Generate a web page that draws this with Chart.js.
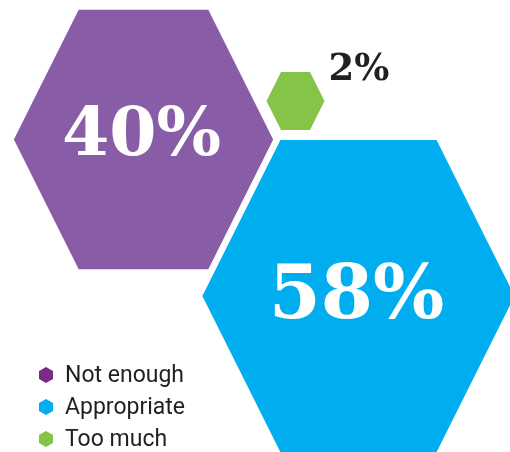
<!DOCTYPE html>
<html>
<head>
    <meta charset="UTF-8">
    <title>Hexagon shares</title>
    <style>
        body {
            margin: 0;
            padding: 0;
            background: #fff;
        }

        #chartBox {
            width: 510px;
            height: 452px;
        }
    </style>
</head>
<body>
    <div id="chartBox">
        <canvas id="hexChart"></canvas>
    </div>

    <script src="https://cdn.jsdelivr.net/npm/chart.js"></script>
    <script>
        const categories = ['Not enough', 'Appropriate', 'Too much'];
        const shares = [40, 58, 2];

        // hexagon centres on the hidden 0-100 axes (y runs top to bottom)
        const centerX = [28.14, 70.29, 57.94];
        const centerY = [30.86, 65.49, 22.35];

        const fills = ['#885ca6', '#00aeef', '#85c446'];
        const legendFills = ['#7b2a88', '#00aeef', '#85c446'];
        const labelColors = ['#ffffff', '#ffffff', '#231f20'];
        const labelSizes = [68, 75, 37];
        const labelNudge = [-2, 3, 0];
        const PX_PER_ROOT = 20.5; // area of a hexagon follows the share

        // flat-topped hexagon, as tall as it is wide
        function hexPath(ctx, x, y, r) {
            ctx.beginPath();
            ctx.moveTo(x - r, y);
            ctx.lineTo(x - r / 2, y - r);
            ctx.lineTo(x + r / 2, y - r);
            ctx.lineTo(x + r, y);
            ctx.lineTo(x + r / 2, y + r);
            ctx.lineTo(x - r / 2, y + r);
            ctx.closePath();
        }

        // small pointy-topped marker for the key
        function markerPath(ctx, x, y) {
            ctx.beginPath();
            ctx.moveTo(x, y - 8);
            ctx.lineTo(x + 7, y - 4);
            ctx.lineTo(x + 7, y + 4);
            ctx.lineTo(x, y + 8);
            ctx.lineTo(x - 7, y + 4);
            ctx.lineTo(x - 7, y - 4);
            ctx.closePath();
        }

        const hexagons = {
            id: 'hexagons',
            afterDatasetsDraw(chart) {
                const ctx = chart.ctx;
                chart.data.datasets.forEach((ds, i) => {
                    const pt = chart.getDatasetMeta(i).data[0];
                    const r = pt.options.radius;
                    ctx.save();
                    ctx.fillStyle = fills[i];
                    hexPath(ctx, pt.x, pt.y, r);
                    ctx.fill();

                    ctx.fillStyle = labelColors[i];
                    ctx.font = 'bold ' + labelSizes[i] + 'px "DejaVu Serif"';
                    const text = shares[i] + '%';
                    if (r > 60) {
                        ctx.textAlign = 'center';
                        ctx.textBaseline = 'middle';
                        ctx.fillText(text, pt.x - 2, pt.y + labelNudge[i]);
                    } else {
                        // small one gets its label outside, up and to the right
                        ctx.textAlign = 'left';
                        ctx.textBaseline = 'alphabetic';
                        ctx.fillText(text, pt.x + r + 4, pt.y - 21);
                    }
                    ctx.restore();
                });
            },
            afterDraw(chart) {
                // key in the bottom-left corner
                const ctx = chart.ctx;
                ctx.save();
                ctx.font = '23px Roboto';
                ctx.textBaseline = 'middle';
                ctx.textAlign = 'left';
                chart.data.datasets.forEach((ds, i) => {
                    const y = 375 + i * 32;
                    ctx.fillStyle = legendFills[i];
                    markerPath(ctx, 46, y);
                    ctx.fill();
                    ctx.fillStyle = '#231f20';
                    ctx.fillText(ds.label, 65, y + 1);
                });
                ctx.restore();
            }
        };

        const datasets = categories.map((name, i) => ({
            label: name,
            data: [{ x: centerX[i], y: centerY[i], r: PX_PER_ROOT * Math.sqrt(shares[i]) }],
            backgroundColor: 'rgba(0, 0, 0, 0)',
            borderWidth: 0,
            hoverRadius: 0
        }));

        new Chart(document.getElementById('hexChart'), {
            type: 'bubble',
            data: { datasets: datasets },
            options: {
                responsive: true,
                maintainAspectRatio: false,
                animation: false,
                events: [],
                layout: { padding: 0, autoPadding: false },
                scales: {
                    x: { type: 'linear', min: 0, max: 100, display: false },
                    y: { type: 'linear', min: 0, max: 100, reverse: true, display: false }
                },
                plugins: {
                    tooltip: { enabled: false },
                    legend: { display: false }
                }
            },
            plugins: [hexagons]
        });
    </script>
</body>
</html>
